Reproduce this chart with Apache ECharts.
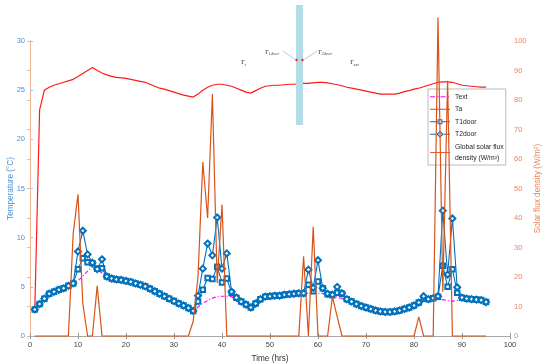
<!DOCTYPE html>
<html>
<head>
<meta charset="utf-8">
<script src="https://cdn.jsdelivr.net/npm/echarts@6/dist/echarts.min.js"></script>
<style>html,body{margin:0;padding:0;background:#fff;}#c{width:550px;height:363px;}</style>
</head>
<body>
<div id="c"></div>
<script>
const hours = [1,2,3,4,5,6,7,8,9,10,11,12,13,14,15,16,17,18,19,20,21,22,23,24,25,26,27,28,29,30,31,32,33,34,35,36,37,38,39,40,41,42,43,44,45,46,47,48,49,50,51,52,53,54,55,56,57,58,59,60,61,62,63,64,65,66,67,68,69,70,71,72,73,74,75,76,77,78,79,80,81,82,83,84,85,86,87,88,89,90,91,92,93,94,95];

const Ta = [2.7,23.0,25.0,25.3,25.5,25.65,25.8,25.95,26.1,26.4,
 26.7,27.0,27.3,27.0,26.75,26.55,26.4,26.3,26.25,26.2,
 26.1,26.0,25.9,25.8,25.6,25.4,25.2,25.1,24.95,24.8,
 24.65,24.5,24.4,24.3,24.6,25.0,25.3,25.5,25.6,25.6,
 25.5,25.4,25.2,25.0,24.8,24.7,24.95,25.2,25.4,25.45,
 25.5,25.5,25.55,25.6,25.6,25.65,25.7,25.7,25.75,25.8,
 25.8,25.75,25.65,25.55,25.45,25.3,25.2,25.1,25.0,24.9,
 24.8,24.7,24.6,24.6,24.6,24.6,24.7,24.85,24.95,25.1,
 25.2,25.35,25.5,25.65,25.8,25.85,25.85,25.8,25.65,25.5,
 25.45,25.4,25.35,25.3,25.3];

const T1door = [2.7,3.25,3.8,4.3,4.5,4.7,4.85,5.1,5.35,
 6.8,7.9,7.5,7.4,6.85,6.9,6.05,
 5.85,5.75,5.7,5.6,5.5,5.35,5.2,5.05,4.8,4.55,4.3,4.05,3.8,3.55,3.3,3.1,2.85,2.55,
 3.5,4.7,5.9,5.8,7.05,5.45,5.85,4.4,
 3.9,3.5,3.2,2.9,3.3,3.75,4.0,4.05,4.1,4.1,4.2,4.25,4.3,4.35,4.35,
 5.2,4.55,5.55,4.85,4.25,4.15,4.4,4.3,
 3.75,3.5,3.25,3.05,2.9,2.75,2.6,2.5,2.45,2.45,2.5,2.6,2.75,2.9,3.1,3.4,
 3.8,3.75,3.85,4.0,7.15,5.0,6.8,4.4,
 3.9,3.8,3.75,3.7,3.65,3.45];

const T2door = [2.7,3.25,3.8,4.3,4.5,4.7,4.85,5.1,5.35,
 8.6,10.7,8.3,7.45,6.8,7.8,6.05,
 5.85,5.75,5.7,5.6,5.5,5.35,5.2,5.05,4.8,4.55,4.3,4.05,3.8,3.55,3.3,3.1,2.85,2.55,
 4.1,6.85,9.4,8.2,12.05,6.85,8.4,4.5,
 3.9,3.5,3.2,2.9,3.3,3.75,4.0,4.05,4.1,4.1,4.2,4.25,4.3,4.35,4.35,
 6.75,4.9,7.7,4.85,4.3,4.2,5.0,4.35,
 3.75,3.5,3.25,3.05,2.9,2.75,2.6,2.5,2.45,2.45,2.5,2.6,2.75,2.9,3.1,3.4,
 4.05,3.75,3.85,4.05,12.75,6.25,11.95,4.95,
 3.9,3.8,3.75,3.7,3.65,3.45];

const Text = [2.7,3.25,3.8,4.3,4.5,4.7,4.85,5.1,5.35,
 5.6,6.1,6.6,7.05,6.75,6.4,6.05,
 5.85,5.75,5.7,5.6,5.5,5.35,5.2,5.05,4.8,4.55,4.3,4.05,3.8,3.55,3.3,3.1,2.85,2.55,
 2.95,3.35,3.6,3.85,4.0,4.05,4.05,4.0,
 3.9,3.5,3.2,2.9,3.3,3.75,4.0,4.05,4.1,4.1,4.2,4.25,4.3,4.35,4.35,
 4.35,4.35,4.35,4.3,4.2,4.1,3.95,3.8,
 3.7,3.5,3.25,3.05,2.9,2.75,2.6,2.5,2.45,2.45,2.5,2.6,2.75,2.9,3.1,3.4,
 3.55,3.65,3.75,3.85,3.7,3.6,3.55,3.6,
 3.9,3.8,3.75,3.7,3.65,3.45];

const Solar = [0,0,0,0,0,0,0,0,
 34.8,48,11,0,0,17,0,
 0,0,0,0,0,0,0,0,0,0,0,0,0,0,0,0,0,0,
 5,20,59,40,82,18,44.6,0,
 0,0,0,0,0,0,0,0,0,0,0,0,0,0,0,
 27,0,37,0,0,0,13.3,6.6,0,
 0,0,0,0,0,0,0,0,0,0,0,0,0,0,0,
 6.5,0,0,0,108,15,86.5,0,
 0,0,0,0,0,0,0];

const xTicks = [0,10,20,30,40,50,60,70,80,90,100];
const tempTicks = [0,5,10,15,20,25,30];
const solarTicks = [0,10,20,30,40,50,60,70,80,90,100];

const pair = arr => hours.map((h, i) => [h, arr[i]]);

const FONT = 'Liberation Sans';
const BLUE = '#0072BD';
const ORANGE = '#D95319';

// legend icons (20 x 8 boxes)
const ICON_LINE = 'path://M0,0M20,8M0,3.55L20,3.55L20,4.45L0,4.45Z';
const ICON_DASHDOT = 'path://M0,0M20,8M0,3.55L5,3.55L5,4.45L0,4.45ZM7,3.55L8.5,3.55L8.5,4.45L7,4.45ZM10.5,3.55L15.5,3.55L15.5,4.45L10.5,4.45ZM17.5,3.55L19,3.55L19,4.45L17.5,4.45Z';
const ICON_SQUARE = 'path://M0,0M20,8M0,3.55L7.6,3.55L7.6,4.45L0,4.45ZM12.4,3.55L20,3.55L20,4.45L12.4,4.45ZM7.6,1.6L12.4,1.6L12.4,6.4L7.6,6.4ZM8.6,2.6L8.6,5.4L11.4,5.4L11.4,2.6Z';
const ICON_DIAMOND = 'path://M0,0M20,8M0,3.55L6.4,3.55L6.4,4.45L0,4.45ZM13.6,3.55L20,3.55L20,4.45L13.6,4.45ZM10,0.4L13.6,4L10,7.6L6.4,4ZM10,1.9L8.1,4L10,6.1L11.9,4Z';

const chart = echarts.init(document.getElementById('c'), null, {renderer: 'canvas'});
chart.setOption({
  animation: false,
  backgroundColor: '#fff',
  textStyle: {fontFamily: FONT},
  grid: {left: 30, right: 40, top: 41, bottom: 27, containLabel: false, outerBoundsMode: 'none'},
  legend: {
    orient: 'vertical', left: 428, top: 89,
    backgroundColor: '#fff', borderColor: '#a8a8a8', borderWidth: 0.8,
    padding: [2, 2, 1, 2], itemGap: 1, itemWidth: 20, itemHeight: 8,
    itemStyle: {borderWidth: 0},
    textStyle: {fontSize: 6.8, fontFamily: FONT, color: '#262626', lineHeight: 11.5},
    data: [
      {name: 'Text', icon: ICON_DASHDOT},
      {name: 'Ta', icon: ICON_LINE},
      {name: 'T1door', icon: ICON_SQUARE},
      {name: 'T2door', icon: ICON_DIAMOND},
      {name: 'Global solar flux\ndensity (W/m²)', icon: ICON_LINE}
    ]
  },
  xAxis: [{
    type: 'value', min: xTicks[0], max: xTicks[xTicks.length - 1], interval: 10,
    name: 'Time (hrs)', nameLocation: 'middle', nameGap: 19, nameMoveOverlap: false,
    nameTextStyle: {fontSize: 8.2, color: '#333', fontFamily: FONT},
    axisLine: {lineStyle: {color: '#b4b4b4', width: 1}},
    axisTick: {inside: true, length: 3, lineStyle: {color: '#9a9a9a'}},
    axisLabel: {fontSize: 7.5, color: '#404040', margin: 5, fontFamily: FONT},
    splitLine: {show: false}
  }, {
    type: 'value', position: 'top', min: 0, max: 100, interval: 10,
    axisLine: {lineStyle: {color: '#a8a8a8', width: 1}},
    axisTick: {inside: true, length: 3, lineStyle: {color: '#9a9a9a'}},
    axisLabel: {show: false}, splitLine: {show: false}
  }],
  yAxis: [{
    type: 'value', position: 'left', min: tempTicks[0], max: tempTicks[tempTicks.length - 1], interval: 5,
    name: 'Temperature (°C)', nameLocation: 'middle', nameGap: 15, nameRotate: 90, nameMoveOverlap: false,
    nameTextStyle: {fontSize: 8.2, color: '#4a92d0', fontFamily: FONT},
    axisLine: {show: true, lineStyle: {color: '#9cc6e8', width: 1}},
    axisTick: {show: true, inside: true, length: 3, lineStyle: {color: '#9cc6e8'}},
    axisLabel: {fontSize: 7.5, color: '#4a92d0', margin: 5, fontFamily: FONT},
    splitLine: {show: false}
  }, {
    type: 'value', position: 'right', min: solarTicks[0], max: solarTicks[solarTicks.length - 1], interval: 10,
    name: 'Solar flux density (W/m²)', nameLocation: 'middle', nameGap: 23.5, nameRotate: 90, nameMoveOverlap: false,
    nameTextStyle: {fontSize: 8.2, color: '#e8845a', fontFamily: FONT},
    axisLine: {show: true, lineStyle: {color: '#f2b497', width: 1}},
    axisTick: {show: true, inside: true, length: 3, lineStyle: {color: '#f2b497'}},
    axisLabel: {fontSize: 7.5, color: '#e8845a', margin: 4, fontFamily: FONT},
    splitLine: {show: false}
  }],
  series: [{
    name: 'Text', type: 'line', data: pair(Text), showSymbol: false, symbol: 'none',
    itemStyle: {color: '#ff00ff'},
    lineStyle: {color: '#ff00ff', width: 1.1, type: [4, 2, 1, 2]}, z: 2
  }, {
    name: 'Ta', type: 'line', data: pair(Ta), showSymbol: false, symbol: 'none',
    itemStyle: {color: '#ff1a1a'},
    lineStyle: {color: '#ff1a1a', width: 1.2}, z: 2
  }, {
    name: 'T1door', type: 'line', data: pair(T1door), symbol: 'emptyRect', symbolSize: 4.5,
    itemStyle: {color: BLUE, borderWidth: 1},
    lineStyle: {color: BLUE, width: 1.1}, z: 3
  }, {
    name: 'T2door', type: 'line', data: pair(T2door), symbol: 'emptyDiamond', symbolSize: 6,
    itemStyle: {color: BLUE, borderWidth: 1},
    lineStyle: {color: BLUE, width: 1.1}, z: 3
  }, {
    name: 'Global solar flux\ndensity (W/m²)', type: 'line', yAxisIndex: 1, data: pair(Solar),
    showSymbol: false, symbol: 'none', clip: false,
    itemStyle: {color: ORANGE},
    lineStyle: {color: ORANGE, width: 1.2}, z: 4
  }],
  graphic: [
    {type: 'rect', shape: {x: 296, y: 5, width: 7, height: 120}, style: {fill: '#b3dce8'}, z: 100},
    {type: 'line', shape: {x1: 283, y1: 51, x2: 295, y2: 59.5}, style: {stroke: '#86b6dc', lineWidth: 0.7}, z: 101},
    {type: 'line', shape: {x1: 317, y1: 51, x2: 304.5, y2: 59.5}, style: {stroke: '#86b6dc', lineWidth: 0.7}, z: 101},
    {type: 'circle', shape: {cx: 296.5, cy: 60, r: 1.2}, style: {fill: '#ff2020'}, z: 102},
    {type: 'circle', shape: {cx: 302.5, cy: 60, r: 1.2}, style: {fill: '#ff2020'}, z: 102},
    {type: 'text', x: 240.5, y: 59, style: {text: 'T', font: 'italic 7px "Liberation Serif"', fill: '#444'}, z: 102},
    {type: 'text', x: 244.5, y: 62, style: {text: 's', font: 'italic 4.5px "Liberation Serif"', fill: '#444'}, z: 102},
    {type: 'text', x: 264.5, y: 48.5, style: {text: 'T', font: 'italic 7px "Liberation Serif"', fill: '#444'}, z: 102},
    {type: 'text', x: 268.5, y: 51.5, style: {text: '1door', font: 'italic 4.5px "Liberation Serif"', fill: '#444'}, z: 102},
    {type: 'text', x: 317.5, y: 48.5, style: {text: 'T', font: 'italic 7px "Liberation Serif"', fill: '#444'}, z: 102},
    {type: 'text', x: 321.5, y: 51.5, style: {text: '2door', font: 'italic 4.5px "Liberation Serif"', fill: '#444'}, z: 102},
    {type: 'text', x: 349.5, y: 59, style: {text: 'T', font: 'italic 7px "Liberation Serif"', fill: '#444'}, z: 102},
    {type: 'text', x: 353.5, y: 62, style: {text: 'ext', font: 'italic 4.5px "Liberation Serif"', fill: '#444'}, z: 102}
  ]
});
</script>
</body>
</html>
